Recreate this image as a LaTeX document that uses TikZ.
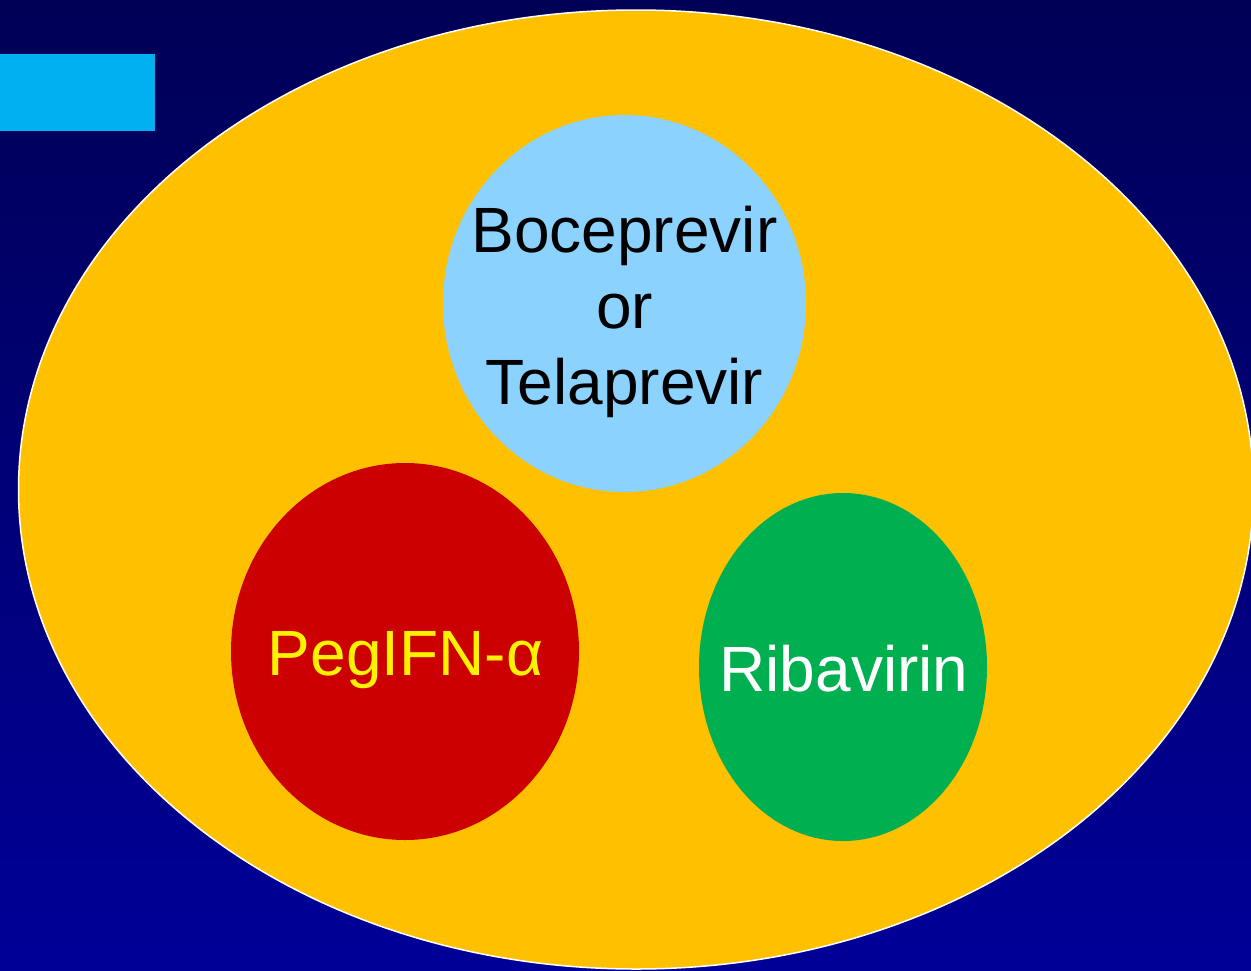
\documentclass[tikz,border=0pt]{standalone}
\usepackage{fontspec}
\setmainfont{Liberation Sans}
\usetikzlibrary{shapes.geometric}

\definecolor{navytop}{RGB}{0,0,86}
\definecolor{navybot}{RGB}{0,0,152}
\definecolor{tagblue}{RGB}{0,176,240}
\definecolor{amber}{RGB}{255,192,0}
\definecolor{skyblue}{RGB}{139,210,255}
\definecolor{drugred}{RGB}{204,0,0}
\definecolor{druggreen}{RGB}{0,176,80}

\tikzset{
  blob/.style={ellipse, inner sep=0pt, outer sep=0pt, draw=none},
  druglabel/.style={inner sep=0pt, font=\fontsize{64}{76}\selectfont, align=center},
}

\begin{document}
\begin{tikzpicture}[x=1pt, y=-1pt]
  % page background
  \useasboundingbox (0,0) rectangle (1251,970);
  \shade[top color=navytop, bottom color=navybot] (0,0) rectangle (1251,970);

  % tab in the upper left corner
  \node[fill=tagblue, inner sep=0pt, minimum width=155pt, minimum height=77pt]
    (tab) at (77.5,92.5) {};

  % enclosing regimen
  \node[blob, fill=amber, draw=white, line width=1.5pt,
        minimum width=1235pt, minimum height=959pt] (regimen) at (636,489.5) {};

  % the three drugs
  \node[blob, fill=skyblue, minimum width=363pt, minimum height=377pt]
    (pi) at (624.5,303.5) {};
  \node[blob, fill=drugred, minimum width=348pt, minimum height=377pt]
    (peg) at (405,651.5) {};
  \node[blob, fill=druggreen, minimum width=288pt, minimum height=348pt]
    (rbv) at (843,667) {};

  % labels (shifts are in page units: negative moves down)
  \node[druglabel, text=black] (pilabel) at ([yshift=-8.3pt]pi.center)
    {Boceprevir\\or\\Telaprevir};
  \node[druglabel, text=yellow, anchor=base] (peglabel) at ([xshift=0.5pt, yshift=-23.5pt]peg.center)
    {PegIFN-α};
  \node[druglabel, text=white, anchor=base] (rbvlabel) at ([xshift=1pt, yshift=-24pt]rbv.center)
    {Ribavirin};
\end{tikzpicture}
\end{document}
